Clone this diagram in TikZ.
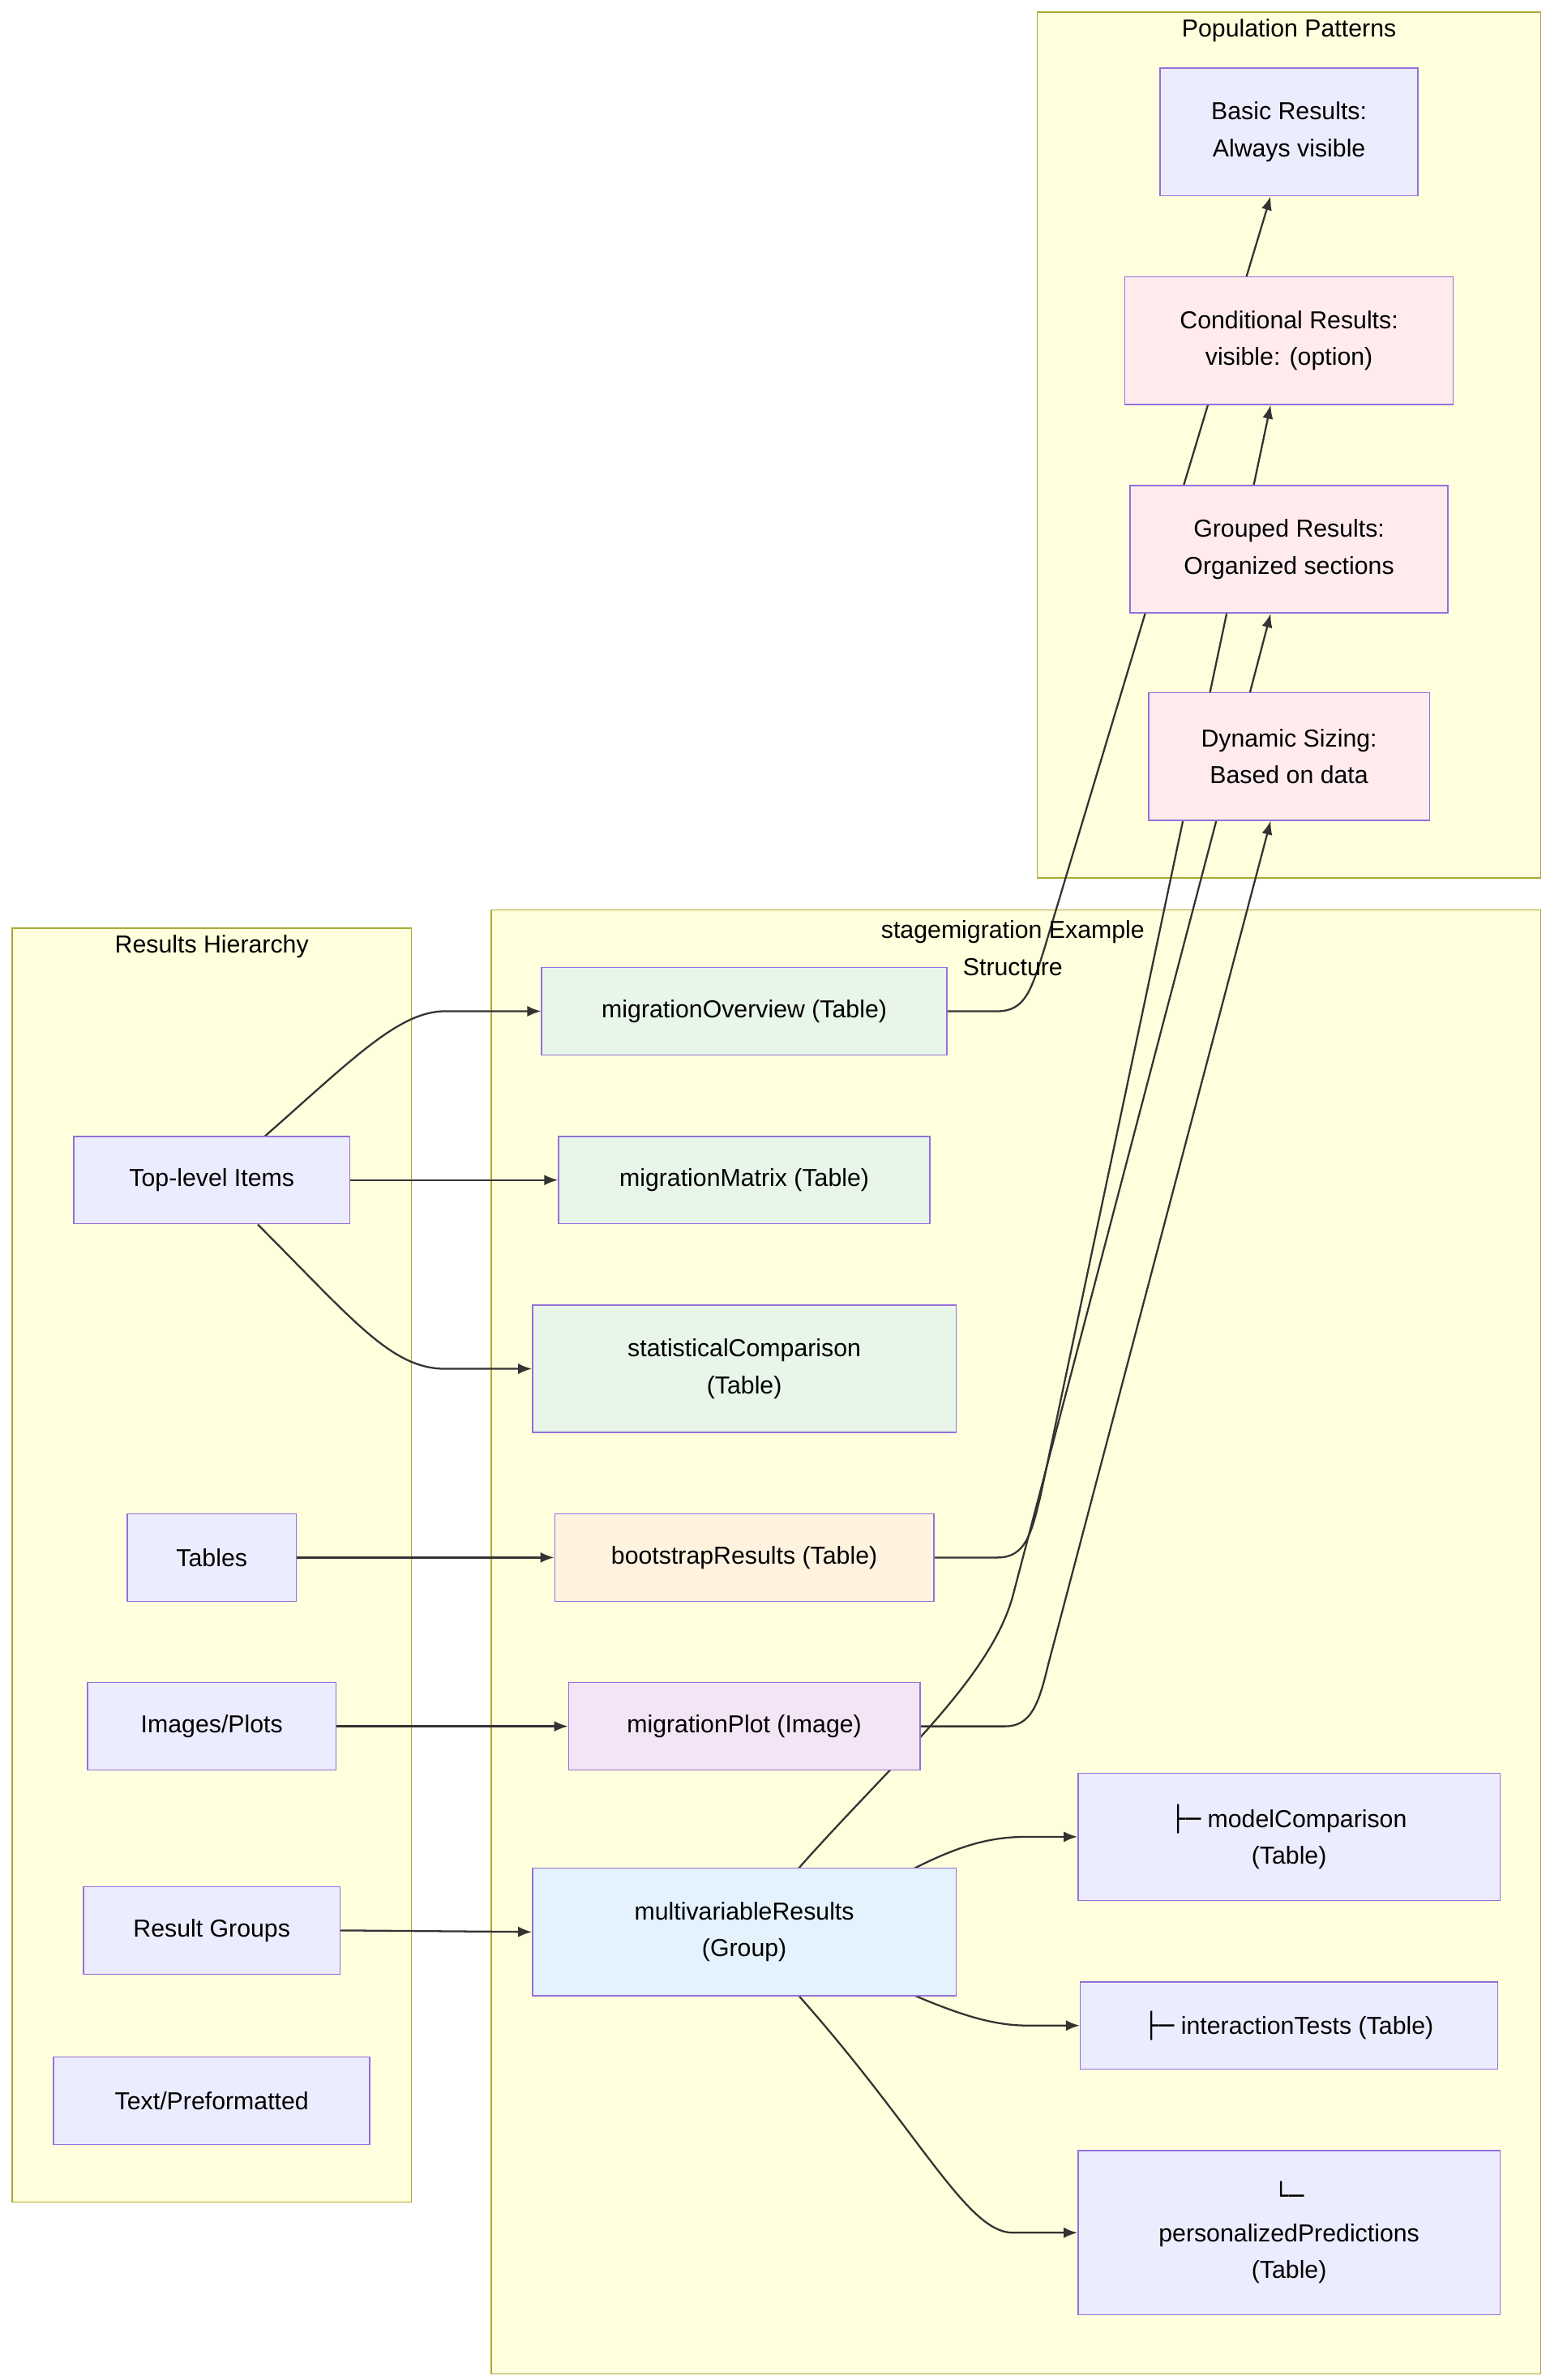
\documentclass[tikz,border=0pt]{standalone}
\usepackage{fontspec}
\setmainfont{Liberation Sans}
\newfontfamily\boxfont{DejaVu Sans}
\usetikzlibrary{arrows.meta}
\pgfdeclarelayer{clusters}
\pgfdeclarelayer{edges}
\pgfsetlayers{clusters,edges,main}
\definecolor{nodefill}{HTML}{ECECFF}
\definecolor{nodeline}{HTML}{9370DB}
\definecolor{clusterfill}{HTML}{FFFFDE}
\definecolor{clusterline}{HTML}{AAAA33}
\definecolor{greenfill}{HTML}{E8F5E9}
\definecolor{orangefill}{HTML}{FFF3E0}
\definecolor{purplefill}{HTML}{F3E5F5}
\definecolor{bluefill}{HTML}{E3F2FD}
\definecolor{pinkfill}{HTML}{FFEBEE}
\definecolor{edgecolor}{HTML}{333333}
\tikzset{
	boxstyle/.style={rectangle,draw=nodeline,fill=nodefill,align=center,inner sep=0pt,font=\fontsize{8}{12}\selectfont},
	tablestyle/.style={boxstyle,fill=greenfill},
	pinkstyle/.style={boxstyle,fill=pinkfill},
	clusterstyle/.style={draw=clusterline,fill=clusterfill},
	edgestyle/.style={draw=edgecolor,line width=0.6pt,-{Latex[length=4.5pt,width=3.5pt]}}
}
\begin{document}
\begin{tikzpicture}[x=0.5pt,y=-0.5pt]
	\useasboundingbox (0,0) rectangle (1010,1551);
	\begin{pgfonlayer}{clusters}
	\draw[clusterstyle] (676,8) rectangle (1004,572);
	\draw[clusterstyle] (8,605) rectangle (268,1435);
	\draw[clusterstyle] (320,593) rectangle (1004,1547);
	\end{pgfonlayer}
	\node[font=\fontsize{8}{12}\selectfont] (poplabel) at (840,20) {Population Patterns};
	\node[font=\fontsize{8}{12}\selectfont] (hierlabel) at (138,617) {Results Hierarchy};
	\node[font=\fontsize{8}{12}\selectfont,align=center] (stagelabel) at (660,618) {stagemigration Example\\Structure};
	% population patterns
	\node[boxstyle,minimum width=84pt,minimum height=41.5pt] (basic) at (840,86) {Basic Results:\\Always visible};
	\node[pinkstyle,minimum width=107pt,minimum height=41.5pt] (cond) at (840,222) {Conditional Results:\\visible: (option)};
	\node[pinkstyle,minimum width=103.5pt,minimum height=41.5pt] (grouped) at (840,358) {Grouped Results:\\Organized sections};
	\node[pinkstyle,minimum width=91.5pt,minimum height=41.5pt] (dynamic) at (840,493) {Dynamic Sizing:\\Based on data};
	% results hierarchy
	\node[boxstyle,minimum width=90pt,minimum height=28.5pt] (top) at (138,769) {Top-level Items};
	\node[boxstyle,minimum width=55pt,minimum height=28.5pt] (tables) at (138,1015) {Tables};
	\node[boxstyle,minimum width=81pt,minimum height=28.5pt] (images) at (138,1125) {Images/Plots};
	\node[boxstyle,minimum width=83.5pt,minimum height=28.5pt] (groups) at (138,1258) {Result Groups};
	\node[boxstyle,minimum width=103pt,minimum height=28.5pt] (text) at (138,1369) {Text/Preformatted};
	% example structure
	\node[tablestyle,minimum width=132pt,minimum height=28.5pt] (overview) at (485,659) {migrationOverview (Table)};
	\node[tablestyle,minimum width=121pt,minimum height=28.5pt] (matrix) at (485,769) {migrationMatrix (Table)};
	\node[tablestyle,minimum width=138pt,minimum height=41.5pt] (statcomp) at (485,892) {statisticalComparison\\(Table)};
	\node[boxstyle,fill=orangefill,minimum width=123.5pt,minimum height=28.5pt] (bootstrap) at (485,1015) {bootstrapResults (Table)};
	\node[boxstyle,fill=purplefill,minimum width=114.5pt,minimum height=28.5pt] (plot) at (485,1125) {migrationPlot (Image)};
	\node[boxstyle,fill=bluefill,minimum width=138pt,minimum height=41.5pt] (multi) at (485,1259) {multivariableResults\\(Group)};
	\node[boxstyle,minimum width=137.5pt,minimum height=41.5pt] (modelcomp) at (840,1197) {{\boxfont ├─} modelComparison\\(Table)};
	\node[boxstyle,minimum width=136pt,minimum height=28.5pt] (interact) at (840,1320) {{\boxfont ├─} interactionTests (Table)};
	\node[boxstyle,minimum width=137.5pt,minimum height=53.5pt] (personal) at (840,1455) {{\boxfont └─}\\personalizedPredictions\\(Table)};
	\begin{pgfonlayer}{edges}
	\draw[edgestyle] (172,741) .. controls (230,690) and (260,659) .. (290,659) -- (overview.west);
	\draw[edgestyle] (top.east) -- (matrix.west);
	\draw[edgestyle] (168,798) .. controls (230,860) and (255,892) .. (290,892) -- (statcomp.west);
	\draw[edgestyle] (tables.east) -- (bootstrap.west);
	\draw[edgestyle] (images.east) -- (plot.west);
	\draw[edgestyle] (groups.east) -- (multi.west);
	\draw[edgestyle] (595,1218) .. controls (630,1200) and (650,1197) .. (670,1197) -- (modelcomp.west);
	\draw[edgestyle] (595,1300) .. controls (630,1315) and (650,1320) .. (670,1320) -- (interact.west);
	\draw[edgestyle] (520,1300) .. controls (600,1390) and (630,1455) .. (660,1455) -- (personal.west);
	\draw[edgestyle] (overview.east) -- (650,659) .. controls (668,659) and (672,645) .. (680,620) -- ([xshift=-6pt]basic.south);
	\draw[edgestyle] (bootstrap.east) -- (650,1015) .. controls (668,1015) and (672,1000) .. (678,975) -- ([xshift=-6pt]cond.south);
	\draw[edgestyle] (plot.east) -- (655,1125) .. controls (672,1125) and (677,1110) .. (683,1085) -- ([xshift=-6pt]dynamic.south);
	\draw[edgestyle] (520,1218) .. controls (580,1150) and (645,1095) .. (660,1040) -- ([xshift=-6pt]grouped.south);
	\end{pgfonlayer}
\end{tikzpicture}
\end{document}
